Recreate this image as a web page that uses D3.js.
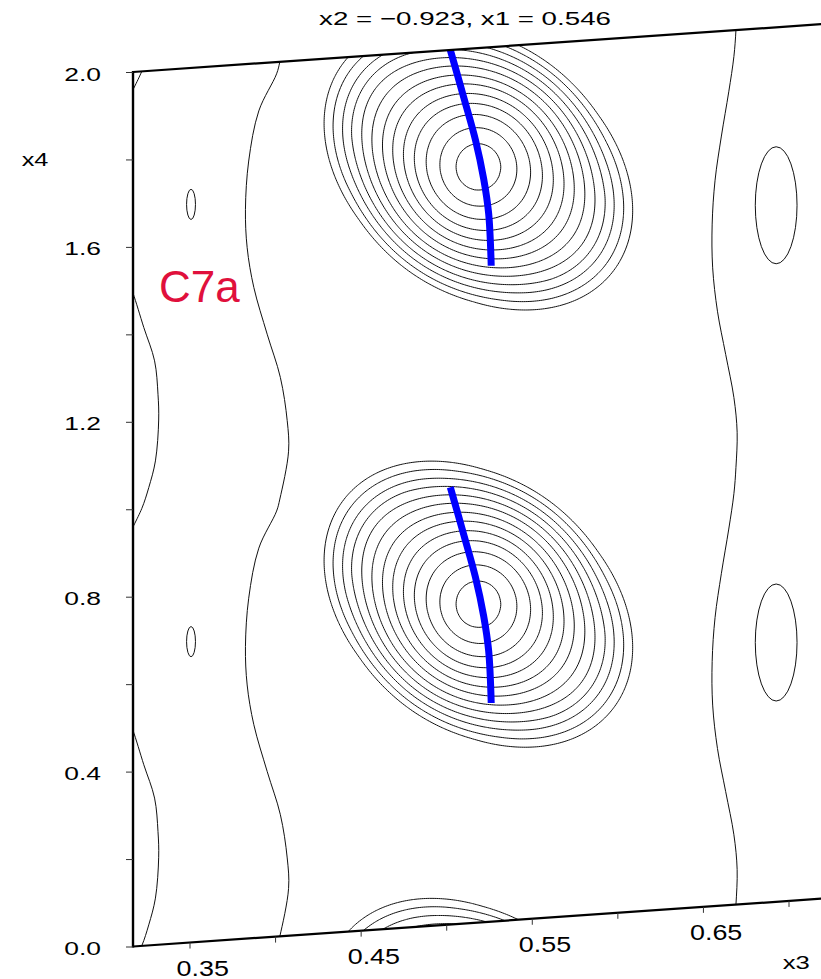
<!DOCTYPE html>
<html>
<head>
<meta charset="utf-8">
<script src="https://cdn.jsdelivr.net/npm/d3@7/dist/d3.min.js"></script>
<style>
  body { margin: 0; background: #fff; }
  svg { display: block; }
</style>
</head>
<body>
<div id="plot"></div>
<script>
var width = 821, height = 979;
var font = "'Liberation Sans', Arial, Helvetica, sans-serif";

// axis values (section x2 = -0.923, x1 = 0.546)
var x3Domain = [0.3167, 0.7300];
var x4Domain = [0.0, 2.0];
var x3Ticks = [0.35, 0.40, 0.45, 0.50, 0.55, 0.60, 0.65, 0.70];
var x3Labels = ["0.35", "0.45", "0.55", "0.65"];
var x4Ticks = [0.0, 0.2, 0.4, 0.6, 0.8, 1.0, 1.2, 1.4, 1.6, 1.8, 2.0];
var x4Labels = ["0.0", "0.4", "0.8", "1.2", "1.6", "2.0"];

// density maximum, repeated with period 1 along x4
var peakCenter = [0.5185, 0.728];
var peakCells = [-1, 0, 1, 2];
// contour radii of the maximum (x3 units), innermost first
var ringRadii = [0.0131, 0.0225, 0.0304, 0.0371, 0.0432, 0.0491, 0.0546, 0.0602, 0.0654, 0.0706, 0.0756, 0.0809, 0.0859];
var levels = [1, 2, 3, 4, 5, 6, 7, 8, 9, 10, 11, 12, 13];

// modulation curve of C7a (x3 against x4), one cell
var trajX4 = [0.50, 0.62, 0.70, 0.79, 0.89, 1.00];
var trajX3 = [0.5260, 0.5245, 0.5216, 0.5168, 0.5099, 0.5021];
var trajCells = [0, 1];

// lowest contour level, one x4 period each: [x4, x3]
var leftWave = [[0.000, 0.4025], [0.108, 0.4076], [0.178, 0.4068], [0.278, 0.4028], [0.379, 0.3951], [0.488, 0.3873],
                [0.580, 0.3834], [0.668, 0.3824], [0.778, 0.3843], [0.891, 0.3902], [0.973, 0.4006]];
var rightWave = [[0.00, 0.6690], [0.08, 0.6697], [0.16, 0.6678], [0.26, 0.6630], [0.36, 0.6582], [0.46, 0.6554],
                 [0.56, 0.6551], [0.66, 0.6568], [0.76, 0.6605], [0.86, 0.6648], [0.94, 0.6678]];
var edgeLine = [[-0.060, 0.3140], [0.000, 0.3218], [0.047, 0.3259], [0.107, 0.3298], [0.200, 0.3317], [0.259, 0.3313],
                [0.336, 0.3293], [0.414, 0.3230], [0.495, 0.3166], [0.530, 0.3130]];
var waveCells = [-1, 0, 1, 2];
var edgeCells = [0, 1, 2];
// small closed contours: [x3, x4, half width in x3, half height in x4]
var islands = [[0.3506, 0.688, 0.0026, 0.0345], [0.6925, 0.593, 0.0122, 0.1338]];
var islandCells = [0, 1];

// scales, x3 axis is slanted
var x = d3.scaleLinear().domain([0.35, 0.70]).range([190, 789]);
var y = d3.scaleLinear().domain(x4Domain).range([946.5, 72]);
var skew = 0.0695;
var xLeft = x(x3Domain[0]);
function project(a, b) {
  var px = x(a);
  return [px, y(b) - skew * (px - xLeft)];
}

// shape of the contours (pixels): round core, tilted ellipse outside
var shapeA = 174, shapeB = 126, shapeTilt = 38 * Math.PI / 180, coreStretch = 1.04;
var ct = Math.cos(shapeTilt), st = Math.sin(shapeTilt);
function ellip(dx, dy) {
  var u = dx * ct + dy * st, v = -dx * st + dy * ct;
  return Math.sqrt(u * u / (shapeA * shapeA) + v * v / (shapeB * shapeB));
}
var e1 = ellip(1, 0);
function radius(dx, dy) {
  var mc = Math.sqrt(dx * dx + dy * dy / (coreStretch * coreStretch));
  var me = ellip(dx, dy) / e1;
  var w = Math.max(0, Math.min(1, (mc - 20) / 110));
  return mc + w * (me - mc);
}

var rPx = ringRadii.map(function(r) { return x(peakCenter[0] + r) - x(peakCenter[0]); });
var levelOf = d3.scaleLinear()
  .domain([0].concat(rPx))
  .range([levels.length + 1].concat(levels.slice().reverse()));

// grid of the section
var nx = 380, ny = 450;
var s3 = (x3Domain[1] - x3Domain[0]) / (nx - 5), s4 = (x4Domain[1] - x4Domain[0]) / (ny - 5);
var o3 = x3Domain[0] - 2 * s3, o4 = x4Domain[0] - 2 * s4;
var centers = peakCells.map(function(c) { return project(peakCenter[0], peakCenter[1] + c); });
var values = new Array(nx * ny);
for (var j = 0; j < ny; j++) {
  for (var i = 0; i < nx; i++) {
    var p = project(o3 + i * s3, o4 + j * s4), best = -Infinity;
    for (var k = 0; k < centers.length; k++) {
      var v = levelOf(radius(p[0] - centers[k][0], p[1] - centers[k][1]));
      if (v > best) best = v;
    }
    values[j * nx + i] = best;
  }
}
var contours = d3.contours().size([nx, ny]).thresholds(levels)(values);
var toScreen = d3.geoTransform({
  point: function(cx, cy) {
    var q = project(o3 + (cx - 0.5) * s3, o4 + (cy - 0.5) * s4);
    this.stream.point(q[0], q[1]);
  }
});
var path = d3.geoPath(toScreen);

var svg = d3.select("#plot")
  .append("svg")
    .attr("width", width)
    .attr("height", height)
    .style("font-family", font);

var corners = [[x3Domain[0], x4Domain[0]], [x3Domain[1], x4Domain[0]], [x3Domain[1], x4Domain[1]], [x3Domain[0], x4Domain[1]]]
  .map(function(d) { return project(d[0], d[1]); });
svg.append("defs").append("clipPath").attr("id", "frame")
  .append("polygon")
    .attr("points", corners.map(function(c) { return c.join(","); }).join(" "));

var plot = svg.append("g").attr("clip-path", "url(#frame)");

//contours of the maximum
plot.append("g")
    .attr("fill", "none")
    .attr("stroke", "#111")
    .attr("stroke-width", 1)
  .selectAll("path")
  .data(contours)
  .enter()
  .append("path")
    .attr("d", path);

//lowest level lines
var line = d3.line()
  .x(function(d) { return project(d[1], d[0])[0]; })
  .y(function(d) { return project(d[1], d[0])[1]; })
  .curve(d3.curveCatmullRom);

function repeat(period, cells) {
  var out = [];
  cells.forEach(function(c) {
    period.forEach(function(d) { out.push([d[0] + c, d[1]]); });
  });
  return out;
}

var low = plot.append("g")
  .attr("fill", "none")
  .attr("stroke", "#111")
  .attr("stroke-width", 1);

low.append("path").attr("d", line(repeat(leftWave, waveCells)));
low.append("path").attr("d", line(repeat(rightWave, waveCells)));
edgeCells.forEach(function(c) {
  low.append("path").attr("d", line(repeat(edgeLine, [c])));
});

islands.forEach(function(d) {
  islandCells.forEach(function(c) {
    var ctr = project(d[0], d[1] + c);
    low.append("ellipse")
      .attr("cx", ctr[0])
      .attr("cy", ctr[1])
      .attr("rx", x(d[0] + d[2]) - x(d[0]))
      .attr("ry", y(0) - y(d[3]));
  });
});

//modulation curve
var traj = trajX4.map(function(v, i) { return [v, trajX3[i]]; });
trajCells.forEach(function(c) {
  plot.append("path")
    .attr("d", line(repeat(traj, [c])))
    .attr("fill", "none")
    .attr("stroke", "#0000ff")
    .attr("stroke-width", 7);
});

//frame
var frame = svg.append("g").attr("stroke", "#000").attr("fill", "none");
frame.append("line")
  .attr("x1", corners[0][0]).attr("y1", corners[0][1])
  .attr("x2", corners[1][0]).attr("y2", corners[1][1])
  .attr("stroke-width", 2.2);
frame.append("line")
  .attr("x1", corners[3][0]).attr("y1", corners[3][1])
  .attr("x2", corners[2][0]).attr("y2", corners[2][1])
  .attr("stroke-width", 2.2);
frame.append("line")
  .attr("x1", corners[0][0]).attr("y1", corners[0][1] + 1)
  .attr("x2", corners[3][0]).attr("y2", corners[3][1] - 1)
  .attr("stroke-width", 2.4);

//Y-axis
var yAxis = svg.append("g")
  .attr("transform", "translate(" + xLeft + ",0)")
  .call(d3.axisLeft(y)
    .tickValues(x4Ticks)
    .tickSize(7)
    .tickFormat(function(d) { var s = d.toFixed(1); return x4Labels.indexOf(s) >= 0 ? s : ""; }));
yAxis.select(".domain").remove();
yAxis.selectAll(".tick line").attr("stroke", "#333");
yAxis.selectAll(".tick text")
  .attr("x", null)
  .attr("dy", null)
  .attr("transform", "translate(-32,8) scale(1.42,1)")
  .attr("font-size", 18.6)
  .attr("font-family", font)
  .attr("fill", "#000");

//X-axis along the slanted bottom edge
var xAxis = svg.append("g")
  .call(d3.axisBottom(x)
    .tickValues(x3Ticks)
    .tickSize(6)
    .tickFormat(function(d) { var s = d.toFixed(2); return x3Labels.indexOf(s) >= 0 ? s : ""; }));
xAxis.select(".domain").remove();
xAxis.selectAll(".tick")
  .attr("transform", function(d) { var q = project(d, 0); return "translate(" + q[0] + "," + q[1] + ")"; });
xAxis.selectAll(".tick line").attr("stroke", "#333");
xAxis.selectAll(".tick text")
  .attr("y", null)
  .attr("dy", null)
  .attr("transform", "translate(12.7,33) scale(1.2,1)")
  .attr("font-size", 22.4)
  .attr("font-family", font)
  .attr("fill", "#000");

//axis titles
var x3Pos = project(0.7042, 0);
svg.append("text")
  .attr("transform", "translate(" + x3Pos[0] + "," + (x3Pos[1] + 69) + ") scale(1.38,1)")
  .attr("text-anchor", "middle")
  .attr("font-size", 18.6)
  .text("x3");
svg.append("text")
  .attr("transform", "translate(35," + (y(1.8) + 7) + ") scale(1.36,1)")
  .attr("text-anchor", "middle")
  .attr("font-size", 18.6)
  .text("x4");

svg.append("text")
  .attr("transform", "translate(465,25) scale(1.49,1)")
  .attr("text-anchor", "middle")
  .attr("font-size", 18.6)
  .text("x2 = \u22120.923, x1 = 0.546");

svg.append("text")
  .attr("x", 159)
  .attr("y", 302)
  .attr("font-size", 44)
  .attr("fill", "#e0103c")
  .text("C7a");
</script>
</body>
</html>
